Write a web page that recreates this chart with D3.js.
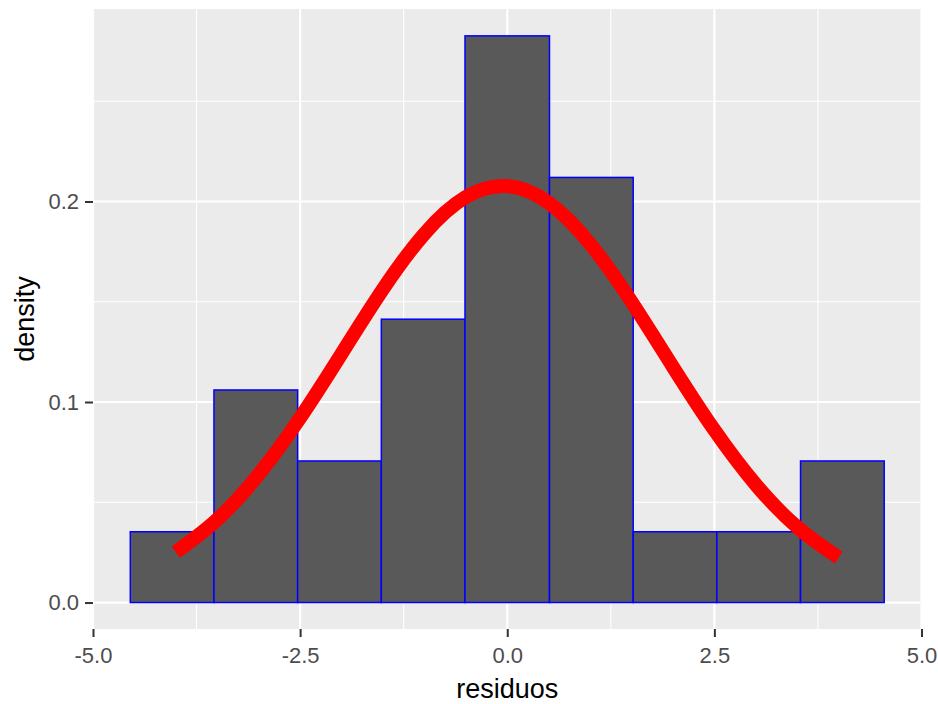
<!DOCTYPE html>
<html>
<head>
<meta charset="utf-8">
<script src="https://cdn.jsdelivr.net/npm/d3@7"></script>
<style>
  body { margin: 0; background: #ffffff; }
  svg { display: block; }
</style>
</head>
<body>
<svg id="histChart"></svg>
<script>
// histogram bins (edges and density)
let binEdges = [-4.55, -3.54, -2.53, -1.52, -0.51, 0.51, 1.52, 2.53, 3.54, 4.55];
let binDensity = [0.0353, 0.106, 0.0706, 0.1413, 0.2826, 0.212, 0.0353, 0.0353, 0.0706];

// red density curve
let curveX = [-4, -3.5, -3, -2.5, -2, -1.5, -1, -0.5, 0, 0.5, 1, 1.5, 2, 2.5, 3, 3.5, 4];
let curveY = [0.0251, 0.0414, 0.0639, 0.0921, 0.1241, 0.1563, 0.1839, 0.2022, 0.2077,
              0.1994, 0.1789, 0.150, 0.1175, 0.0860, 0.0588, 0.0376, 0.0224];

// ticks
let xTicks = [-5, -2.5, 0, 2.5, 5];
let xMinor = [-3.75, -1.25, 1.25, 3.75];
let yTicks = [0, 0.1, 0.2];
let yMinor = [0.05, 0.15, 0.25];

let widthSVG = 938;
let heightSVG = 704;

// panel box in pixels
let panel = { left: 93, right: 921.5, top: 9, bottom: 629 };

let SVG = d3.select('svg#histChart')
            .attr('width', widthSVG)
            .attr('height', heightSVG);

// scales
let x = d3.scaleLinear().domain([-5, 5]).range([panel.left, panel.right]);
let y = d3.scaleLinear().domain([-0.0132, 0.296]).range([panel.bottom, panel.top]);

// tick labels with a plain hyphen for negatives, like R does
let fmt = d => d3.format('.1f')(d).replace('\u2212', '-');

// grey panel background
SVG.append('rect')
   .attr('x', panel.left)
   .attr('y', panel.top)
   .attr('width', panel.right - panel.left)
   .attr('height', panel.bottom - panel.top)
   .style('fill', '#EBEBEB');

let grid = SVG.append('g').classed('grid', true);

// minor grid lines
grid.selectAll('line.xMinor')
    .data(xMinor)
    .enter()
    .append('line')
    .attr('x1', d => x(d)).attr('x2', d => x(d))
    .attr('y1', panel.top).attr('y2', panel.bottom)
    .style('stroke', '#ffffff')
    .style('stroke-width', '1.1px');

grid.selectAll('line.yMinor')
    .data(yMinor)
    .enter()
    .append('line')
    .attr('x1', panel.left).attr('x2', panel.right)
    .attr('y1', d => y(d)).attr('y2', d => y(d))
    .style('stroke', '#ffffff')
    .style('stroke-width', '1.1px');

// major grid lines
grid.selectAll('line.xMajor')
    .data(xTicks)
    .enter()
    .append('line')
    .attr('x1', d => x(d)).attr('x2', d => x(d))
    .attr('y1', panel.top).attr('y2', panel.bottom)
    .style('stroke', '#ffffff')
    .style('stroke-width', '2.2px');

grid.selectAll('line.yMajor')
    .data(yTicks)
    .enter()
    .append('line')
    .attr('x1', panel.left).attr('x2', panel.right)
    .attr('y1', d => y(d)).attr('y2', d => y(d))
    .style('stroke', '#ffffff')
    .style('stroke-width', '2.2px');

// histogram bars
let bins = binDensity.map((d, i) => ({ x0: binEdges[i], x1: binEdges[i + 1], density: d }));

SVG.append('g')
   .selectAll('rect')
   .data(bins)
   .enter()
   .append('rect')
   .attr('x', d => x(d.x0))
   .attr('width', d => x(d.x1) - x(d.x0))
   .attr('y', d => y(d.density))
   .attr('height', d => y(0) - y(d.density))
   .style('fill', '#595959')
   .style('stroke', '#0000FF')
   .style('stroke-width', '1.5px');

// density curve
let line = d3.line()
             .x(d => x(d[0]))
             .y(d => y(d[1]))
             .curve(d3.curveNatural);

SVG.append('path')
   .datum(curveX.map((d, i) => [d, curveY[i]]))
   .attr('d', line)
   .style('fill', 'none')
   .style('stroke', '#FF0000')
   .style('stroke-width', '14px')
   .style('stroke-linecap', 'butt')
   .style('stroke-linejoin', 'round');

// axes
let xAxis = d3.axisBottom(x)
              .tickValues(xTicks)
              .tickSize(8)
              .tickPadding(10)
              .tickFormat(fmt);

let yAxis = d3.axisLeft(y)
              .tickValues(yTicks)
              .tickSize(8)
              .tickPadding(6)
              .tickFormat(fmt);

let gx = SVG.append('g')
            .attr('transform', `translate(0, ${panel.bottom})`)
            .call(xAxis);

let gy = SVG.append('g')
            .attr('transform', `translate(${panel.left}, 0)`)
            .call(yAxis);

[gx, gy].forEach(g => {
  g.select('.domain').remove();
  g.selectAll('.tick line')
   .style('stroke', '#333333')
   .style('stroke-width', '2px');
  g.selectAll('.tick text')
   .style('fill', '#4D4D4D')
   .style('font-family', 'Liberation Sans, Arial, sans-serif')
   .style('font-size', '22px');
});

// axis titles
SVG.append('text')
   .text('residuos')
   .attr('x', (panel.left + panel.right) / 2)
   .attr('y', 698)
   .style('text-anchor', 'middle')
   .style('font-family', 'Liberation Sans, Arial, sans-serif')
   .style('font-size', '27px')
   .style('fill', '#000000');

SVG.append('text')
   .text('density')
   .attr('transform', `translate(34, ${(panel.top + panel.bottom) / 2}) rotate(-90)`)
   .style('text-anchor', 'middle')
   .style('font-family', 'Liberation Sans, Arial, sans-serif')
   .style('font-size', '27px')
   .style('fill', '#000000');
</script>
</body>
</html>
